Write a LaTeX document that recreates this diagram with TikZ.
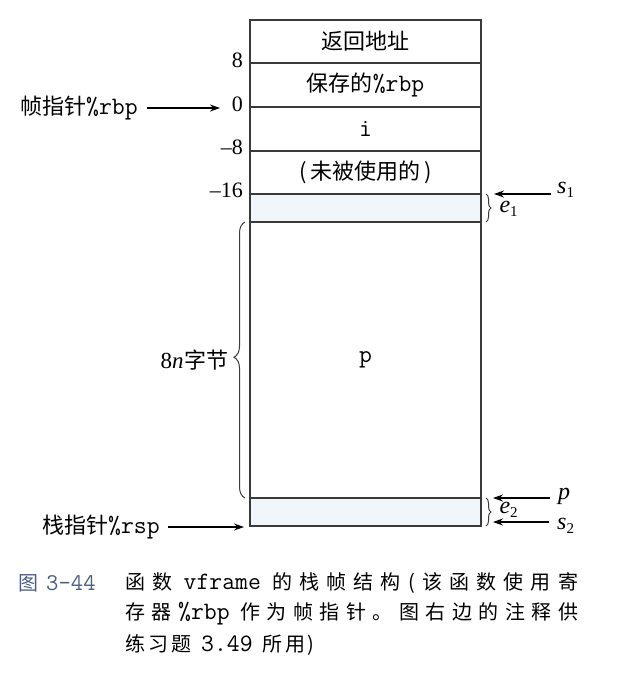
\documentclass[tikz,border=0pt]{standalone}
\usepackage{fontspec}
\setmainfont{Liberation Serif}
\newfontfamily\cjk{Noto Sans CJK SC}
\usetikzlibrary{arrows.meta,decorations.pathreplacing}
\definecolor{linec}{HTML}{3A3A3A}
\definecolor{shade}{HTML}{F1F6FB}
\definecolor{capc}{HTML}{4D5F80}
\newcommand\mtt[1]{{\ttfamily\fontsize{25}{25}\selectfont #1}}
\newcommand\ctt[1]{{\ttfamily\fontsize{25}{25}\selectfont #1}}
\newcommand\ivar[2]{{\itshape #1}\raisebox{-4pt}{\fontsize{15}{15}\selectfont #2}}
\tikzset{
  cell/.style={draw=linec, line width=1.2pt, minimum width=231pt, inner sep=0pt, outer sep=0pt, font=\cjk\fontsize{22}{22}\selectfont},
  num/.style={anchor=east, inner sep=0pt, font=\fontsize{22}{22}\selectfont},
  lbl/.style={inner sep=0pt, font=\cjk\fontsize{22}{22}\selectfont},
  rl/.style={anchor=west, inner sep=0pt, font=\fontsize{24}{24}\selectfont},
  arr/.style={-{Stealth[length=10pt,width=7pt]}, line width=1.3pt, draw=black},
  brc/.style={decorate, draw=linec, line width=1pt},
  captxt/.style={anchor=west, inner sep=0pt, font=\cjk\fontsize{20}{20}\selectfont}
}
\begin{document}
\begin{tikzpicture}[x=1pt,y=-1pt]
\useasboundingbox[fill=white] (0,0) rectangle (621,691);
% cells
\node[cell, minimum height=43pt] (c1) at (365.5,41.5) {返回地址};
\node[cell, minimum height=44pt] (c2) at (365.5,85) {保存的\mtt{\%rbp}};
\node[cell, minimum height=44pt] (c3) at (365.5,129) {\mtt{i}};
\node[cell, minimum height=43pt] (c4) at (365.5,172.5) {(\,未被使用的\,)};
\node[cell, minimum height=28pt, fill=shade] (c5) at (365.5,208) {};
\node[cell, minimum height=276pt] (c6) at (365.5,360) {\mtt{p}};
\node[cell, minimum height=28pt, fill=shade] (c7) at (365.5,512) {};
% offsets
\node[num] (n8) at (243,60) {8};
\node[num] (n0) at (243,104) {0};
\node[num] (nm8) at (243,147) {–8};
\node[num] (nm16) at (243,190) {–16};
% left pointers
\node[lbl, anchor=west] (fp) at (20,108) {帧指针\mtt{\%rbp}};
\draw[arr] (fp.east) ++(9pt,0) coordinate (fps) -- (220,108) coordinate (fpe);
\node[lbl, anchor=west] (sp) at (42,527) {栈指针\mtt{\%rsp}};
\coordinate (spe) at (c7.south west);
\draw[arr] ([xshift=8pt]sp.east) -- ([xshift=-6pt,yshift=-1pt]spe);
% left brace
\draw[brc, decoration={brace, amplitude=11pt, aspect=0.51}] ([xshift=-5pt]c6.south west) -- ([xshift=-5pt]c6.north west) node[midway, left=16pt, inner sep=0pt, font=\cjk\fontsize{22}{22}\selectfont] (bytes) {{\fontsize{23}{23}\selectfont\rmfamily 8\textit{n}}\hspace{1pt}字节};
% right braces
\draw[brc, decoration={brace, amplitude=5pt}] ([xshift=5pt]c5.north east) -- ([xshift=5pt]c5.south east) node[midway, right=13pt, inner sep=0pt, yshift=-1pt] (e1) {\fontsize{24}{24}\selectfont\ivar{e}{1}};
\draw[brc, decoration={brace, amplitude=5pt}] ([xshift=5pt]c7.north east) -- ([xshift=5pt]c7.south east) node[midway, right=13pt, inner sep=0pt, yshift=2pt] (e2) {\fontsize{24}{24}\selectfont\ivar{e}{2}};
% right pointers
\node[rl] (s1) at (557,190) {\ivar{s}{1}};
\draw[arr] ([xshift=-6pt]s1.west |- c5.north east) -- ([xshift=13pt]c5.north east);
\node[rl] (p) at (558,496) {\itshape p};
\draw[arr] ([xshift=-8pt]p.west |- c7.north east) -- ([xshift=12pt]c7.north east);
\node[rl] (s2) at (557,526) {\ivar{s}{2}};
\draw[arr] ([xshift=-8pt,yshift=4pt]s2.west |- c7.south east) -- ([xshift=12pt,yshift=4pt]c7.south east);
% caption
\node[captxt, text=capc] (fig) at (18,583) {图\hspace{8pt}{\ttfamily\fontsize{24}{24}\selectfont 3-44}};
\node[captxt] (l1) at (125,583) {\makebox[453pt][s]{函\hfil 数\hfil\hspace{4pt}\ctt{vframe}\hspace{4pt}\hfil 的\hfil 栈\hfil 帧\hfil 结\hfil 构\hfil (\hfil 该\hfil 函\hfil 数\hfil 使\hfil 用\hfil 寄}};
\node[captxt] (l2) at (125,614) {\makebox[453pt][s]{存\hfil 器\hfil\ctt{\%rbp}\hspace{4pt}\hfil 作\hfil 为\hfil 帧\hfil 指\hfil 针\hfil 。\hfil 图\hfil 右\hfil 边\hfil 的\hfil 注\hfil 释\hfil 供}};
\node[captxt] (l3) at (125,645) {练\hspace{3pt}习\hspace{3pt}题\hspace{10pt}\ctt{3.49}\hspace{10pt}所\hspace{3pt}用\hspace{2pt})};
\end{tikzpicture}
\end{document}
